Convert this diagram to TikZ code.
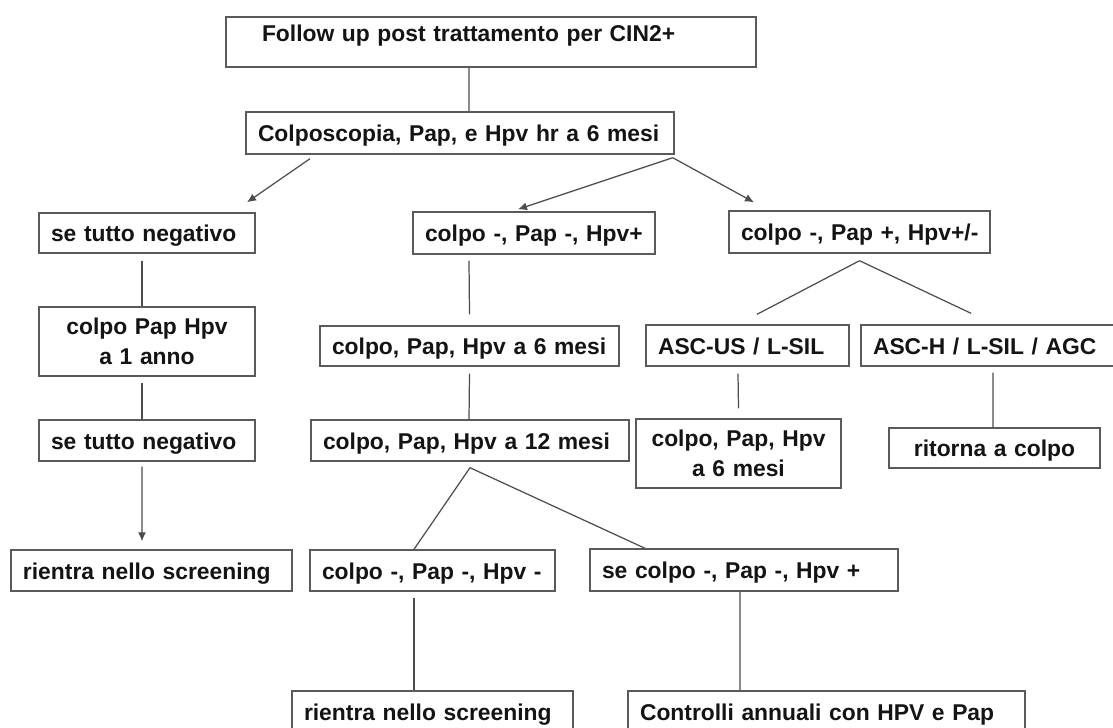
\documentclass[tikz,border=0pt]{standalone}
\usepackage{fontspec}
\setmainfont{Liberation Sans}[WordSpace=0.8]
\usetikzlibrary{arrows.meta}
\definecolor{bordo}{HTML}{5A5A5A}
\definecolor{linea}{HTML}{4D4D4D}
\definecolor{testo}{HTML}{141414}
\begin{document}
\begin{tikzpicture}[inner sep=0mm, >={Latex[length=1.8mm,width=1.6mm]}, font=\fontsize{13}{17}\selectfont\bfseries]
\useasboundingbox [fill=white] (0,0) rectangle (22.26,14.54);
\tikzstyle{casella}=[rectangle,draw=bordo,line width=0.8pt,fill=white,text=testo,inner xsep=0.24cm,inner ysep=0mm,text height=0.34cm,text depth=0cm,align=left]
\tikzstyle{casella2}=[rectangle,draw=bordo,line width=0.8pt,fill=white,text=testo,inner xsep=0.24cm,inner ysep=0mm,align=center]
\tikzstyle{freccia}=[draw=linea,line width=0.7pt]
\node at (9.82,13.70) (follow)[casella,inner xsep=0.72cm,text width=9.16cm,text height=0.5cm,text depth=0.5cm] {Follow up post trattamento per CIN2+};
\node at (9.20,11.88) (colposc)[casella,text width=8.08cm,minimum height=0.84cm] {Colposcopia, Pap, e Hpv hr a 6 mesi};
\node at (2.94,9.88) (neg1)[casella,text width=3.84cm,minimum height=0.80cm] {se tutto negativo};
\node at (10.68,9.88) (pos1)[casella,text width=4.36cm,minimum height=0.84cm] {colpo -, Pap -, Hpv+};
\node at (17.19,9.90) (pap)[casella,text width=4.74cm,minimum height=0.84cm] {\mbox{colpo -, Pap +, Hpv+/-}};
\node at (2.94,7.71) (anno)[casella2,text width=3.84cm,minimum height=1.38cm] {colpo Pap Hpv\\a 1 anno};
\node at (9.39,7.62) (sei)[casella,text width=5.50cm,minimum height=0.80cm] {colpo, Pap, Hpv a 6 mesi};
\node at (14.95,7.63) (ascus)[casella,text width=3.58cm,minimum height=0.82cm] {ASC-US / L-SIL};
\node at (19.81,7.63) (asch)[casella,text width=4.70cm,minimum height=0.82cm] {ASC-H / L-SIL / AGC};
\node at (2.94,5.73) (neg2)[casella,text width=3.84cm,minimum height=0.82cm] {se tutto negativo};
\node at (9.40,5.73) (dodici)[casella,text width=5.88cm,minimum height=0.82cm] {colpo, Pap, Hpv a 12 mesi};
\node at (14.77,5.47) (sei2)[casella2,text width=3.62cm,minimum height=1.38cm] {colpo, Pap, Hpv\\a 6 mesi};
\node at (19.89,5.58) (ritorna)[casella,align=center,text width=3.74cm,minimum height=0.80cm] {ritorna a colpo};
\node at (3.03,3.13) (rientra1)[casella,text width=5.14cm,minimum height=0.82cm] {rientra nello screening};
\node at (8.65,3.13) (neg3)[casella,text width=4.42cm,minimum height=0.82cm] {colpo -, Pap -, Hpv -};
\node at (14.88,3.14) (secolpo)[casella,text width=5.68cm,minimum height=0.84cm] {se colpo -, Pap -, Hpv +};
\node at (8.65,0.31) (rientra2)[casella,text width=5.14cm,minimum height=0.82cm] {rientra nello screening};
\node at (16.53,0.31) (controlli)[casella,text width=7.46cm,minimum height=0.82cm] {Controlli annuali con HPV e Pap};
%% primo livello
\draw [freccia] ([xshift=-0.44cm]follow.south) -- ([xshift=0.18cm]colposc.north);
\draw [freccia,->] ([xshift=-3.0cm,yshift=-0.08cm]colposc.south) -- ([xshift=2.0cm,yshift=0.2cm]neg1.north);
\draw [freccia,->] ([xshift=-0.04cm,yshift=-0.06cm]colposc.south east) -- ([xshift=-0.32cm,yshift=0.04cm]pos1.north);
\draw [freccia,->] ([xshift=-0.04cm,yshift=-0.06cm]colposc.south east) -- ([xshift=-2.11cm,yshift=0.16cm]pap.north);
%% colonna sinistra
\draw [freccia] ([xshift=-0.1cm,yshift=-0.14cm]neg1.south) -- ([xshift=-0.1cm]anno.north);
\draw [freccia] ([xshift=-0.1cm,yshift=-0.12cm]anno.south) -- ([xshift=-0.1cm]neg2.north);
\draw [freccia,->] ([xshift=-0.1cm,yshift=-0.1cm]neg2.south) -- ([xshift=-0.19cm,yshift=0.16cm]rientra1.north);
%% colonna centrale
\draw [freccia] ([xshift=-1.3cm,yshift=-0.12cm]pos1.south) -- ([yshift=0.22cm]sei.north);
\draw [freccia] ([yshift=-0.14cm]sei.south) -- ([xshift=-0.02cm]dodici.north);
\draw [freccia] ([yshift=-0.12cm]dodici.south) -- ([xshift=-0.37cm]neg3.north);
\draw [freccia] ([yshift=-0.12cm]dodici.south) -- ([xshift=-1.98cm]secolpo.north);
\draw [freccia] ([xshift=-0.37cm,yshift=-0.12cm]neg3.south) -- ([xshift=-0.37cm]rientra2.north);
\draw [freccia] ([xshift=-0.08cm]secolpo.south) -- ([xshift=-1.73cm]controlli.north);
%% colonna destra
\draw [freccia] ([yshift=-0.14cm]pap.south) -- ([xshift=0.19cm,yshift=0.2cm]ascus.north);
\draw [freccia] ([yshift=-0.14cm]pap.south) -- ([xshift=-0.39cm,yshift=0.22cm]asch.north);
\draw [freccia] ([xshift=-0.19cm,yshift=-0.14cm]ascus.south) -- ([yshift=0.2cm]sei2.north);
\draw [freccia] ([xshift=0.05cm,yshift=-0.12cm]asch.south) -- ([xshift=-0.03cm]ritorna.north);
\end{tikzpicture}
\end{document}
